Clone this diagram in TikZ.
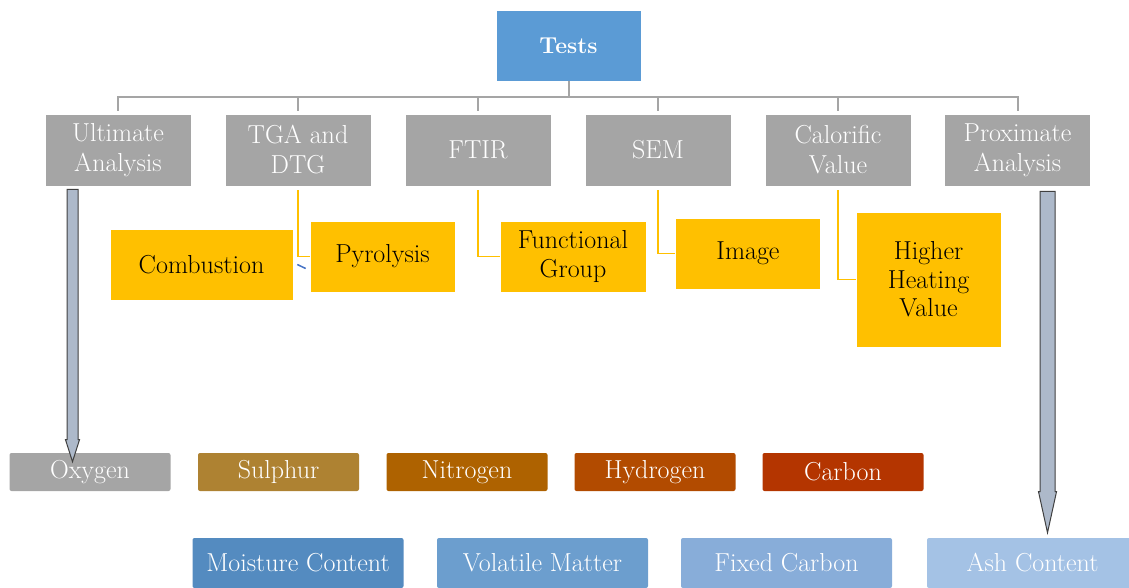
\documentclass[tikz,border=0pt]{standalone}
\usepackage{amsmath}
\usepackage{color}
\usetikzlibrary{calc}

\definecolor{testblue}{HTML}{5B9BD5}
\definecolor{boxgray}{HTML}{A5A5A5}
\definecolor{boxgold}{HTML}{FFC000}
\definecolor{sulphurc}{HTML}{AE8232}
\definecolor{nitrogenc}{HTML}{AE6200}
\definecolor{hydrogenc}{HTML}{B24B00}
\definecolor{carbonc}{HTML}{B43500}
\definecolor{moistc}{HTML}{548BC0}
\definecolor{volatc}{HTML}{6C9ECE}
\definecolor{fixedc}{HTML}{88ADD9}
\definecolor{ashc}{HTML}{A4C2E5}
\definecolor{arrowfill}{HTML}{ADB9CA}
\definecolor{arrowline}{HTML}{404040}
\definecolor{linkblue}{HTML}{4472C4}

\newcommand{\blockarrow}[5]{%
\path[blockarr] let \p1=(#1), \p2=(#2) in
 (\x1-#3pt,\y1) -- (\x1+#3pt,\y1) -- (\x1+#3pt,\y2+#5pt) -- (\x1+#4pt,\y2+#5pt)
 -- (\x1,\y2) -- (\x1-#4pt,\y2+#5pt) -- (\x1-#3pt,\y2+#5pt) -- cycle;}

\begin{document}
\begin{tikzpicture}[x=1pt,y=-1pt,
box/.style={shape=rectangle, draw=white, line width=0.6pt, align=center, inner sep=0pt, font=\fontsize{26}{30}\selectfont},
testbox/.style={box, fill=testblue, text=white, minimum width=145, minimum height=71, font=\bfseries\fontsize{23}{29}\selectfont},
graybox/.style={box, fill=boxgray, text=white, minimum width=146, minimum height=72},
goldbox/.style={box, fill=boxgold, text=black, minimum height=71, font=\fontsize{26}{28.5}\selectfont},
elembox/.style={box, rounded corners=2pt, draw=none, text=white, minimum width=161, minimum height=38},
proxbox/.style={box, rounded corners=2pt, draw=none, text=white, minimum width=211, minimum height=50},
treeline/.style={draw=boxgray, line width=2pt},
subline/.style={draw=boxgold, line width=1.5pt},
blockarr/.style={fill=arrowfill, draw=arrowline, line width=1pt, line join=miter}]
\useasboundingbox (0,0) rectangle (1129,587);
\clip (0,0) rectangle (1129,587);

\node[testbox](tests) at (568.5,45.5) {Tests};

\node[graybox](ua) at (118,150) {Ultimate\\Analysis};
\node[graybox](tga) at (298,150) {TGA and\\DTG};
\node[graybox](ftir) at (478,150) {FTIR};
\node[graybox](sem) at (658,150) {SEM};
\node[graybox](cal) at (838,150) {Calorific\\Value};
\node[graybox](pa) at (1017.5,150) {Proximate\\Analysis};

\foreach \n in {ua,tga,ftir,sem,cal,pa}
  \draw[treeline] (tests.south) -- ++(0,16) -| ($(\n.north)+(0,-3)$);

\node[goldbox, minimum width=183](comb) at (201.5,264.5) {Combustion};
\node[goldbox, minimum width=145](pyro) at (382.5,256.5) {Pyrolysis};
\node[goldbox, minimum width=146](fg) at (573,256.5) {Functional\\Group};
\node[goldbox, minimum width=145](img) at (748,253.5) {Image};
\node[goldbox, minimum width=145, minimum height=135](hhv) at (928.5,279.5) {Higher\\Heating\\Value};

\draw[subline] ($(tga.south)+(0,4)$) |- (pyro.west);
\draw[subline] ($(ftir.south)+(0,4)$) |- (fg.west);
\draw[subline] ($(sem.south)+(0,4)$) |- (img.west);
\draw[subline] ($(cal.south)+(0,4)$) |- (hhv.west);
\draw[linkblue, line width=1.5pt] ($(comb.east)+(4,0)$) -- ($(pyro.west)+(-4,12)$);

\node[elembox, fill=boxgray](oxy) at (90,472) {Oxygen};
\node[elembox, fill=sulphurc](sul) at (278.5,472) {Sulphur};
\node[elembox, fill=nitrogenc](nit) at (467,472) {Nitrogen};
\node[elembox, fill=hydrogenc](hyd) at (655,472) {Hydrogen};
\node[elembox, fill=carbonc](carb) at (843,472) {Carbon};

\node[proxbox, fill=moistc](mc) at (298,563) {Moisture Content};
\node[proxbox, fill=volatc](vm) at (542.5,563) {Volatile Matter};
\node[proxbox, fill=fixedc](fc) at (786.5,563) {Fixed Carbon};
\node[proxbox, fill=ashc](ash) at (1032.5,563) {Ash Content};

\blockarrow{$(ua.south)+(-45.5,3)$}{$(oxy.north)+(-18,9)$}{5.5}{7}{22}
\blockarrow{$(pa.south)+(30,5)$}{$(ash.north)+(15.5,-5)$}{7.5}{9}{41}
\end{tikzpicture}
\end{document}
